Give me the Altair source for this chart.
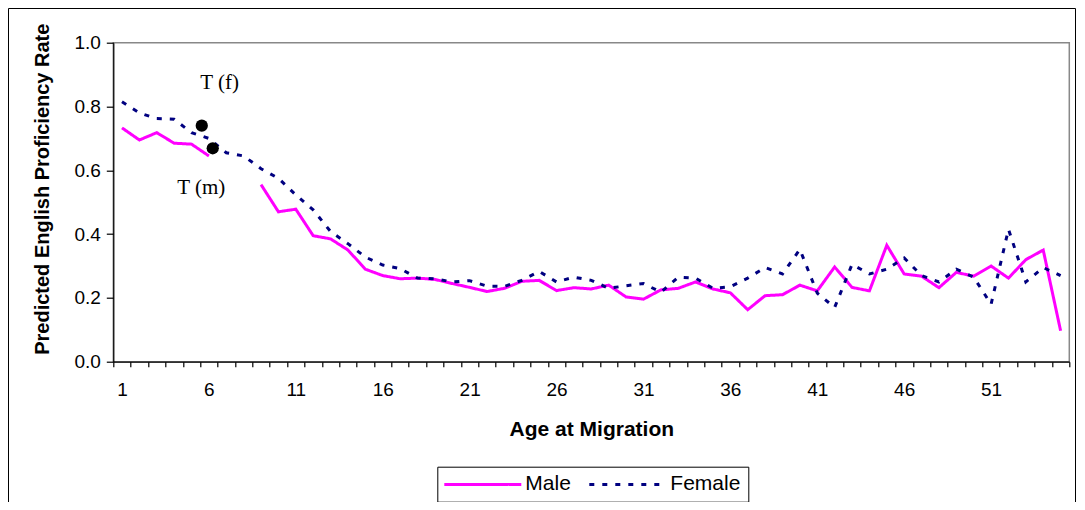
import altair as alt
import pandas as pd

# ---- data ----
ages = list(range(1, 56))
male = [0.733, 0.695, 0.718, 0.685, 0.682, 0.645, None, None, 0.555, 0.47,
        0.478, 0.395, 0.385, 0.35, 0.29, 0.27, 0.26, 0.262, 0.258, 0.245,
        0.233, 0.22, 0.23, 0.252, 0.255, 0.223, 0.232, 0.228, 0.24, 0.203,
        0.196, 0.225, 0.23, 0.25, 0.228, 0.216, 0.163, 0.207, 0.21, 0.24,
        0.222, 0.297, 0.233, 0.222, 0.365, 0.275, 0.268, 0.232, 0.28, 0.268,
        0.3, 0.262, 0.32, 0.35, 0.097]
female = [0.815, 0.78, 0.762, 0.76, 0.718, 0.70, 0.655, 0.645, 0.605, 0.575,
          0.523, 0.476, 0.408, 0.37, 0.328, 0.303, 0.292, 0.262, 0.26, 0.25,
          0.254, 0.237, 0.236, 0.255, 0.283, 0.25, 0.265, 0.255, 0.23, 0.238,
          0.245, 0.218, 0.265, 0.262, 0.23, 0.235, 0.262, 0.295, 0.275, 0.352,
          0.215, 0.17, 0.305, 0.275, 0.29, 0.325, 0.27, 0.25, 0.29, 0.265,
          0.18, 0.415, 0.25, 0.295, 0.27]
series_names = ["Male", "Female"]
series_colors = ["#FF00FF", "#000080"]

marker_ages = [5.59, 6.22]
marker_values = [0.740, 0.669]

note_texts = ["T (f)", "T (m)"]
note_ages = [6.62, 5.56]
note_values = [0.854, 0.526]

x_label_ages = [1, 6, 11, 16, 21, 26, 31, 36, 41, 46, 51]
y_ticks = [0.0, 0.2, 0.4, 0.6, 0.8, 1.0]

# ---- tables ----
rows = []
seg = 0
for a, m in zip(ages, male):
    if m is None:
        seg += 1
        continue
    rows.append({"age": a, "value": m, "series": "Male", "seg": f"M{seg}"})
for a, f in zip(ages, female):
    rows.append({"age": a, "value": f, "series": "Female", "seg": "F"})
df = pd.DataFrame(rows)

markers = pd.DataFrame({"age": marker_ages, "value": marker_values})
notes = pd.DataFrame({"age": note_ages, "value": note_values, "text": note_texts})

PLOT_W = 956
PLOT_H = 319
band = PLOT_W / 55.0

label_set = ",".join(str(a - 0.5) for a in x_label_ages)
label_expr = f"indexof([{label_set}], datum.value) >= 0 ? format(datum.value + 0.5, 'd') : ''"

x_enc = alt.X(
    "age:Q",
    scale=alt.Scale(domain=[0.5, 55.5], nice=False, zero=False),
    axis=alt.Axis(
        values=[i + 0.5 for i in range(56)],
        tickCount=200,
        labelExpr=label_expr,
        labelOffset=band / 2,
        labelFlush=False,
        labelOverlap=False,
        tickSize=5,
        labelPadding=14,
        labelFontSize=19,
        title="Age at Migration",
        titleFontSize=21,
        titleBaseline="alphabetic",
        titleY=73.3,
        grid=False,
    ),
)
y_enc = alt.Y(
    "value:Q",
    scale=alt.Scale(domain=[0, 1], nice=False),
    axis=alt.Axis(
        values=y_ticks,
        format=".1f",
        tickSize=7,
        labelPadding=6,
        labelFontSize=19,
        title="Predicted English Proficiency Rate",
        titleFontSize=20,
        titleX=-61,
        titleY=146,
        grid=False,
    ),
)

lines = alt.Chart(df).mark_line(strokeWidth=3).encode(
    x=x_enc,
    y=y_enc,
    color=alt.Color("series:N", scale=alt.Scale(domain=series_names, range=series_colors),
                    legend=alt.Legend(title=None)),
    strokeDash=alt.StrokeDash("series:N", scale=alt.Scale(domain=series_names, range=[[1, 0], [5, 8]]),
                              legend=alt.Legend(title=None)),
    detail="seg:N",
)

dots = alt.Chart(markers).mark_circle(size=150, color="black", opacity=1).encode(
    x="age:Q", y="value:Q"
)

texts = alt.Chart(notes).mark_text(
    font="Liberation Serif", fontSize=21, align="center", baseline="alphabetic", color="black"
).encode(x="age:Q", y="value:Q", text="text:N")

frame = alt.Chart(pd.DataFrame({"k": [0]})).mark_rect(
    filled=False, stroke="black", strokeWidth=1
).encode(
    x=alt.value(-104.8), x2=alt.value(962.2), y=alt.value(-34.2), y2=alt.value(520)
)

chart = alt.layer(frame, lines, dots, texts).properties(
    width=PLOT_W,
    height=PLOT_H,
    padding={"left": 105.3, "top": 34.7, "right": 6.7, "bottom": 140.3},
    autosize=alt.AutoSizeParams(type="none"),
).configure(
    font="Liberation Sans",
).configure_view(
    stroke="#888888", strokeWidth=1.5
).configure_axis(
    domainColor="black", domainWidth=1.2, tickColor="black", tickWidth=1.2,
    labelColor="black", titleColor="black", labelFont="Liberation Sans",
    titleFont="Liberation Sans", titleFontWeight="bold",
).configure_legend(
    orient="none", legendX=324, legendY=424, direction="horizontal",
    strokeColor="black", fillColor="white", padding=7,
    symbolType="M-10.5,0L66.5,0", symbolSize=4, symbolStrokeWidth=3,
    labelOffset=60, labelFontSize=21, labelFont="Liberation Sans", labelColor="black",
    columnPadding=12, cornerRadius=0,
)

chart.save("out.html", embed_options={"renderer": "svg", "actions": False})
